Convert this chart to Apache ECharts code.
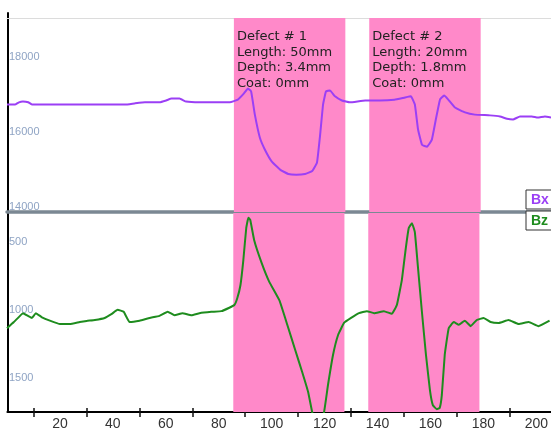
<!DOCTYPE html>
<html><head><meta charset="utf-8">
<script src="https://cdn.jsdelivr.net/npm/echarts@6/dist/echarts.min.js"></script>
<style>html,body{margin:0;padding:0;background:#fff}#c{width:551px;height:432px}</style>
</head><body><div id="c"></div>
<script>
// Bx series (top panel)
const bxX = [0,3,4.5,6,8,9.5,20,31,44.5,48,52,57.5,60,62,65,67.5,72.5,78.5,84,87,89.3,90.8,92,93.4,95.3,97.2,99.8,103,106,109,112.3,115,116.8,118,119.1,120.2,121.7,123.6,126.2,129.2,135,140.5,146,150,152.2,153.7,154.9,156.4,158.3,160.1,161.6,163.2,164.7,166.2,168.8,172.6,176.3,182,185.8,188.4,190.7,193.3,197.8,200,202.7,205];
const bxY = [16880,16880,16940,16960,16940,16880,16880,16880,16880,16910,16940,16940,16990,17040,17040,16960,16940,16940,16940,17010,17180,17310,17230,16610,15990,15670,15350,15130,15020,15000,15020,15100,15320,16070,16880,17230,17260,17100,16990,16940,16990,16990,17010,17070,17100,16880,16210,15800,15750,15940,16480,17020,17120,17020,16800,16670,16610,16590,16560,16500,16480,16560,16560,16530,16560,16530];
// Bz series (bottom panel)
const bzX = [0,2.6,4.9,6,7.9,9.4,10.9,13.2,16.2,20,23.7,27.5,30.1,33.2,36.9,39.6,41.8,44.1,46.3,50.1,53.9,57.6,60.7,63.3,66.3,69.7,72.7,77.2,81,84,85.9,87,88.2,89.3,90.4,91.2,91.9,93.4,96.1,99.1,102.9,105.9,108.9,111.5,113.8,115.3,117.5,119.8,121.3,123.2,125.1,127.4,130,133,136,138.7,142.4,145.4,147.3,149.2,150.7,151.8,153,154.1,155.2,156.7,158.3,159.8,160.9,162.4,163.5,164.3,165.4,166.9,168.8,170.7,173,175.2,177.5,180.1,182.7,185.8,189.5,193.3,197.1,200.8,205];
const bzY = [1135,1090,1045,1025,1045,1060,1025,1055,1080,1105,1105,1090,1082,1075,1060,1030,1000,1015,1090,1080,1060,1045,1015,1040,1025,1040,1025,1015,1010,985,965,915,820,635,400,325,340,490,650,795,930,1110,1295,1455,1605,1750,1900,1750,1550,1330,1185,1095,1060,1025,1010,1025,1010,1030,965,780,545,400,365,430,670,1000,1330,1590,1700,1730,1720,1625,1330,1135,1090,1110,1080,1120,1075,1060,1090,1097,1075,1105,1090,1120,1080];
// Defects
const defectNames = ['Defect # 1','Defect # 2'];
const defectLengths = ['50mm','20mm'];
const defectDepths = ['3.4mm','1.8mm'];
const defectCoats = ['0mm','0mm'];
const defectStart = [85.5,136.5];
const defectEnd = [127.5,178.5];
// Axis ticks / labels
const xTickValues = [10,30,50,70,90,110,130,150,170,190];
const xLabelValues = [20,40,60,80,100,120,140,160,180,200];
const bxLabelValues = [14000,16000,18000];
const bzLabelValues = [500,1000,1500];

const bxColor = '#9b3ff5', bzColor = '#1e8c1e', pink = '#ff89c9';
const pair = (xs, ys) => xs.map((x, i) => [x, ys[i]]);
const plain = v => String(v);
const defectText = i => defectNames[i] + '\nLength: ' + defectLengths[i] + '\nDepth: ' + defectDepths[i] + '\nCoat: ' + defectCoats[i];

const areasTop = defectNames.map((n, i) => [{name: defectText(i), xAxis: defectStart[i]}, {xAxis: defectEnd[i]}]);
const areasBot = defectNames.map((n, i) => [{xAxis: defectStart[i]}, {xAxis: defectEnd[i]}]);

const chart = echarts.init(document.getElementById('c'), null, {renderer: 'canvas'});
chart.setOption({
  animation: false,
  backgroundColor: '#fff',
  grid: [
    {left: 7, top: 18, width: 544, height: 194},
    {left: 7, top: 213, width: 544, height: 199},
    {left: 8, top: 13, right: 0, bottom: 20}
  ],
  legend: [
    {data: ['Bx'], left: 526, top: 190, orient: 'vertical', icon: 'none', itemWidth: 0, itemHeight: 14,
     selectedMode: false, backgroundColor: '#fff', borderColor: '#333', borderWidth: 1, padding: [3, 6, 2, 0],
     textStyle: {color: bxColor, fontWeight: 'bold', fontSize: 14, fontFamily: 'Liberation Sans'}},
    {data: ['Bz'], left: 526, top: 211, orient: 'vertical', icon: 'none', itemWidth: 0, itemHeight: 14,
     selectedMode: false, backgroundColor: '#fff', borderColor: '#333', borderWidth: 1, padding: [3, 6, 2, 0],
     textStyle: {color: bzColor, fontWeight: 'bold', fontSize: 14, fontFamily: 'Liberation Sans'}}
  ],
  xAxis: [
    {gridIndex: 0, type: 'value', min: 0, max: 205, position: 'bottom',
     axisLine: {show: true, lineStyle: {color: '#7b8893', width: 3.5}}, axisTick: {show: false}, axisLabel: {show: false}, splitLine: {show: false}},
    {gridIndex: 0, type: 'value', min: 0, max: 205, position: 'top',
     axisLine: {show: true, lineStyle: {color: '#dcdcdc', width: 1}}, axisTick: {show: false}, axisLabel: {show: false}, splitLine: {show: false}},
    {gridIndex: 1, type: 'value', min: 0, max: 205, position: 'bottom',
     axisLine: {show: true, lineStyle: {color: '#111', width: 1.5}},
     axisTick: {show: true, customValues: xTickValues, length: 5, lineStyle: {color: '#111', width: 1.5}},
     axisLabel: {show: true, customValues: xLabelValues, margin: 5, color: '#333', fontSize: 14, fontFamily: 'Liberation Sans', formatter: plain},
     splitLine: {show: false}},
    {gridIndex: 1, type: 'value', min: 0, max: 205, position: 'bottom',
     axisLine: {show: false},
     axisTick: {show: true, inside: true, customValues: xTickValues, length: 4, lineStyle: {color: '#111', width: 1.5}},
     axisLabel: {show: false}, splitLine: {show: false}},
    {gridIndex: 2, type: 'value', min: 0, max: 1, position: 'top',
     axisLine: {show: true, lineStyle: {color: '#000', width: 2}}, axisTick: {show: false}, axisLabel: {show: false}, splitLine: {show: false}}
  ],
  yAxis: [
    {gridIndex: 0, type: 'value', min: 14000, max: 19200,
     axisLine: {show: false}, axisTick: {show: false}, splitLine: {show: false},
     axisLabel: {show: true, inside: true, customValues: bxLabelValues, margin: 2, verticalAlign: 'bottom',
       color: '#8fa4c4', fontSize: 11, fontFamily: 'Liberation Sans', formatter: plain}},
    {gridIndex: 1, type: 'value', min: 290, max: 1750, inverse: true,
     axisLine: {show: false}, axisTick: {show: false}, splitLine: {show: false},
     axisLabel: {show: true, inside: true, customValues: bzLabelValues, margin: 2,
       color: '#8fa4c4', fontSize: 11, fontFamily: 'Liberation Sans', formatter: plain}},
    {gridIndex: 2, type: 'value', min: 0, max: 1,
     axisLine: {show: true, lineStyle: {color: '#000', width: 2}}, axisTick: {show: false}, axisLabel: {show: false}, splitLine: {show: false}}
  ],
  series: [
    {name: 'Bx', type: 'line', xAxisIndex: 0, yAxisIndex: 0, data: pair(bxX, bxY), showSymbol: false, smooth: 0.1,
     lineStyle: {color: bxColor, width: 2}, itemStyle: {color: bxColor}, z: 3,
     markArea: {silent: true, itemStyle: {color: pink}, data: areasTop,
       label: {show: true, position: 'insideTopLeft', offset: [-2, 6], color: '#222', fontSize: 13, lineHeight: 15.5, fontFamily: 'DejaVu Sans'}}},
    {name: 'Bz', type: 'line', xAxisIndex: 2, yAxisIndex: 1, data: pair(bzX, bzY), showSymbol: false, smooth: 0.1,
     lineStyle: {color: bzColor, width: 2}, itemStyle: {color: bzColor}, z: 3, clip: true,
     markArea: {silent: true, itemStyle: {color: pink}, data: areasBot, label: {show: false}}}
  ]
});
</script>
</body></html>
